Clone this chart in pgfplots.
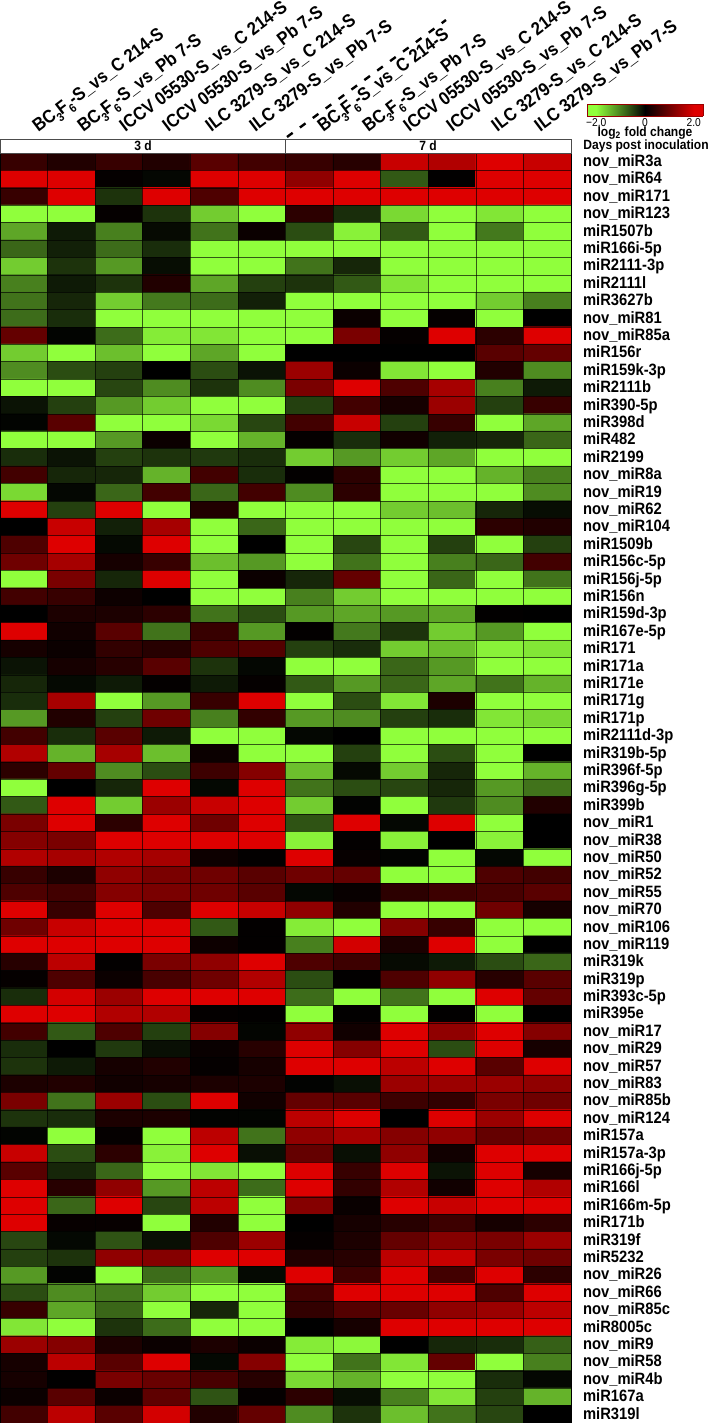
\documentclass[border=0pt]{standalone}
\usepackage{fontspec}
\setmainfont[FakeStretch=0.9]{Liberation Sans}
\usepackage{pgfplots}
\pgfplotsset{compat=1.18}
\pgfplotsset{colormap={gbr}{rgb255(0)=(144,255,60) rgb255(1)=(0,0,0) rgb255(2)=(222,0,0)}}

% sizes are in reference pixels, 1px = 0.5pt
\newcommand{\rowfont}{\fontsize{8.2}{9}\selectfont\bfseries}
\newcommand{\colfont}{\fontsize{9.2}{10}\selectfont\bfseries}
\newcommand{\smallbold}{\fontsize{6.7}{7.5}\selectfont\bfseries}
\newcommand{\lowsub}[1]{\makebox[0.12em][l]{\raisebox{-0.55ex}{\fontsize{6}{6}\selectfont #1}}}
\newcommand{\bcf}{BC\lowsub{3}\,F\lowsub{6}\,}

\begin{document}
\begin{tikzpicture}[x=0.5pt,y=-0.5pt]
\path[use as bounding box] (0,0) rectangle (709,1423);

\begin{axis}[
    at={(0pt,-711.5pt)}, anchor=south west,
    scale only axis, width=285.5pt, height=635pt,
    xmin=-0.5, xmax=11.5, ymin=-0.5, ymax=72.5, y dir=reverse,
    xtick=\empty,
    ytick={0,...,72},
    extra x ticks={-0.5,0.5,...,11.5},
    extra y ticks={-0.5,0.5,...,72.5},
    extra x tick labels={},
    extra y tick labels={},
    extra tick style={grid=major, major grid style={draw=black, draw opacity=0.65, line width=0.3pt}},
    axis on top,
    major tick length=0pt, minor tick length=0pt,
    yticklabel pos=right,
    yticklabel style={font=\rowfont, xshift=2.5pt, yshift=-0.6pt},
    typeset ticklabels with strut,
    yticklabels={nov\_miR3a,nov\_miR64,nov\_miR171,nov\_miR123,miR1507b,miR166i-5p,miR2111-3p,miR2111l,miR3627b,nov\_miR81,nov\_miR85a,miR156r,miR159k-3p,miR2111b,miR390-5p,miR398d,miR482,miR2199,nov\_miR8a,nov\_miR19,nov\_miR62,nov\_miR104,miR1509b,miR156c-5p,miR156j-5p,miR156n,miR159d-3p,miR167e-5p,miR171,miR171a,miR171e,miR171g,miR171p,miR2111d-3p,miR319b-5p,miR396f-5p,miR396g-5p,miR399b,nov\_miR1,nov\_miR38,nov\_miR50,nov\_miR52,nov\_miR55,nov\_miR70,nov\_miR106,nov\_miR119,miR319k,miR319p,miR393c-5p,miR395e,nov\_miR17,nov\_miR29,nov\_miR57,nov\_miR83,nov\_miR85b,nov\_miR124,miR157a,miR157a-3p,miR166j-5p,miR166l,miR166m-5p,miR171b,miR319f,miR5232,nov\_miR26,nov\_miR66,nov\_miR85c,miR8005c,nov\_miR9,nov\_miR58,nov\_miR4b,miR167a,miR319l},
    point meta min=-2, point meta max=2,
    axis line style={black, line width=0.3pt},
]
\addplot[matrix plot*, mesh/cols=12, point meta=explicit]
  table[header=false, row sep=\\, x expr={mod(\coordindex,12)}, y expr={floor((\coordindex+0.5)/12)}, meta index=0] {
0.5\\0.3\\0.5\\0.3\\0.8\\0.6\\0.5\\0.35\\1.8\\1.6\\2\\1.8\\
2\\2\\0.05\\-0.05\\2\\2\\1.3\\2\\-0.7\\0.02\\2\\2\\
0.5\\2\\-0.4\\2\\0.7\\2\\2\\2\\2\\2\\2\\2\\
-2\\-2\\0.05\\-0.4\\-1.6\\-2\\0.4\\-0.35\\-1.7\\-2\\-1.8\\-2\\
-1.3\\-0.2\\-1.0\\-0.08\\-0.9\\0.1\\-0.6\\-1.9\\-0.7\\-2\\-0.95\\-2\\
-0.8\\-0.25\\-0.85\\-0.35\\-2\\-2\\-2\\-2\\-2\\-2\\-2\\-2\\
-1.6\\-0.4\\-1.2\\-0.1\\-2\\-2\\-0.9\\-0.3\\-2\\-2\\-2\\-2\\
-1.0\\-0.2\\-0.4\\0.3\\-1.3\\-0.5\\-0.4\\-0.7\\-1.8\\-2\\-2\\-2\\
-0.9\\-0.3\\-1.6\\-0.95\\-0.85\\-0.25\\-2\\-2\\-2\\-2\\-1.6\\-1.0\\
-0.85\\-0.35\\-2\\-2\\-2\\-2\\-2\\0.1\\-2\\0.05\\-2\\0\\
0.9\\-0.03\\-0.85\\-1.85\\-1.8\\-2\\-2\\1.1\\0.05\\2\\0.4\\2\\
-1.6\\-2\\-1.5\\-2\\-1.3\\-2\\0\\0\\0\\0\\0.8\\0.9\\
-1.1\\-0.6\\-0.5\\0\\-0.6\\-0.15\\1.4\\0.1\\-1.8\\-2\\0.3\\-1.1\\
-2\\-2\\-0.55\\-1.1\\-0.4\\-1.1\\1.1\\2\\0.7\\1.5\\-1.0\\-0.2\\
-0.15\\-0.5\\-1.2\\-1.6\\-2\\-2\\-0.5\\0.6\\0.2\\1.4\\-0.5\\0.5\\
-0.03\\0.8\\-2\\-2\\-1.7\\-0.55\\0.6\\1.8\\-0.5\\0.5\\-2\\-1.3\\
-2\\-2\\-1.2\\0.1\\-2\\-1.4\\0.05\\-0.35\\0.15\\-0.25\\-0.3\\-0.8\\
-0.35\\-0.15\\-0.5\\-0.4\\-0.45\\-0.35\\-1.6\\-1.2\\-1.6\\-1.3\\-2\\-2\\
0.6\\-0.3\\-0.3\\-1.4\\0.6\\-0.35\\0.03\\0.4\\-2\\-2\\-1.4\\-1.0\\
-1.7\\-0.05\\-0.8\\0.6\\-0.8\\0.6\\-1.1\\0.4\\-2\\-2\\-2\\-1.1\\
2\\-0.5\\2\\-2\\0.3\\-2\\-2\\-2\\-1.6\\-1.5\\-0.3\\-0.1\\
0\\1.8\\-0.25\\1.5\\-2\\-0.8\\-2\\-2\\-2\\-2\\0.4\\0.3\\
0.7\\2\\-0.07\\2\\-2\\0\\-2\\-0.55\\-2\\-0.5\\-2\\-0.5\\
1.0\\1.5\\0.2\\0.5\\-1.5\\-1.2\\-2\\-0.9\\-2\\-1.0\\-0.8\\0.6\\
-2\\1.1\\-0.3\\2\\-2\\0.1\\-0.3\\0.9\\-2\\-0.8\\-2\\-0.9\\
0.6\\0.5\\0.12\\0\\-2\\-2\\-1.0\\-1.6\\-2\\-2\\-2\\-2\\
0\\0.25\\0.25\\0.4\\-0.9\\-0.6\\-1.2\\-1.3\\-1.2\\-1.3\\0.02\\0\\
2\\0.15\\0.8\\-0.9\\0.5\\-1.2\\0.03\\-0.95\\-0.4\\-1.6\\-1.2\\-2\\
0.2\\0.1\\0.45\\0.35\\0.7\\0.75\\-0.5\\-0.35\\-1.6\\-1.5\\-1.9\\-1.8\\
-0.15\\0.2\\0.35\\0.8\\-0.4\\-0.05\\-2\\-2\\-0.8\\-1.2\\-2\\-2\\
-0.3\\-0.07\\-0.2\\0.04\\-0.2\\0.05\\-0.7\\-1.2\\-0.8\\-1.3\\-0.9\\-1.4\\
-0.35\\1.5\\-2\\-1.2\\0.5\\2\\-2\\-0.6\\-1.8\\0.25\\-2\\-2\\
-1.2\\0.3\\-0.5\\1.0\\-1.0\\0.45\\-1.2\\-1.1\\-0.5\\-0.35\\-1.8\\-1.7\\
0.6\\-0.35\\0.8\\-0.2\\-2\\-2\\-0.05\\0\\-2\\-2\\-2\\-2\\
1.6\\-1.4\\1.5\\-1.5\\0.1\\-2\\-2\\-0.5\\-2\\-0.6\\-2\\0\\
0.4\\0.9\\-1.1\\-0.6\\0.55\\1.2\\-1.5\\-0.07\\-1.6\\-0.3\\-2\\-1.4\\
-2\\0\\-0.3\\2\\-0.06\\2\\-0.9\\-0.6\\-0.55\\-0.3\\-1.2\\-0.9\\
-0.7\\2\\-1.6\\1.4\\1.8\\2\\-1.6\\-0.02\\-2\\-0.45\\-1.1\\0.3\\
1.1\\2\\0.4\\2\\1.0\\2\\-0.65\\2\\-0.05\\2\\-2\\0\\
1.2\\1.1\\2\\2\\2\\2\\-1.9\\0.03\\-1.9\\0\\-1.9\\0\\
1.6\\1.5\\1.6\\1.5\\0.12\\0.03\\2\\0.06\\-0.02\\-2\\-0.05\\-2\\
0.5\\0.25\\1.3\\1.1\\1.0\\0.8\\1.0\\0.9\\-2\\-2\\0.7\\0.6\\
0.7\\0.6\\1.2\\1.1\\1.0\\0.8\\-0.05\\0.07\\0.4\\0.55\\0.65\\0.8\\
2\\0.5\\2\\0.7\\2\\1.8\\1.3\\0.3\\-2\\-2\\1.0\\0.2\\
1.0\\1.8\\2\\2\\-0.7\\0.03\\-1.85\\-2\\1.2\\0.5\\-2\\-2\\
2\\2\\2\\2\\0.12\\0.03\\-1.0\\1.9\\0.25\\2\\-2\\0\\
0.35\\1.7\\0.03\\1.1\\1.3\\2\\0.7\\0.55\\-0.08\\-0.2\\-0.6\\-0.8\\
0.05\\0.7\\0.1\\0.65\\1.0\\1.6\\-0.6\\0.02\\0.7\\1.3\\0.35\\0.8\\
-0.35\\1.9\\1.4\\2\\2\\2\\-0.85\\-2\\-0.9\\-2\\2\\0.9\\
2\\2\\1.6\\1.6\\0.04\\0.02\\-2\\0.02\\-2\\0.02\\-2\\0\\
0.6\\-0.7\\0.7\\-0.5\\1.2\\-0.04\\1.3\\0.15\\2\\1.3\\2\\1.2\\
-0.35\\0\\-0.45\\-0.12\\0.08\\0.35\\2\\1.2\\2\\-0.6\\2\\0.2\\
-0.4\\-0.2\\0.2\\0.3\\0.05\\0.2\\2\\2\\1.7\\2\\0.8\\2\\
0.25\\0.3\\0.15\\0.2\\0.25\\0.25\\-0.02\\-0.12\\1.4\\1.4\\1.4\\1.3\\
1.1\\-0.9\\1.4\\-0.6\\2\\0.15\\0.9\\0.8\\0.55\\0.45\\1.1\\1.0\\
-0.4\\-0.35\\0.25\\0.25\\-0.02\\-0.03\\1.7\\2\\0\\2\\1.4\\2\\
-0.03\\-2\\0.05\\-2\\1.7\\-0.9\\1.3\\1.5\\1.2\\1.3\\0.9\\1.0\\
1.8\\-0.6\\0.4\\-1.9\\2\\-0.12\\0.9\\-0.12\\1.3\\0.15\\2\\2\\
0.8\\-0.3\\-0.8\\-2\\-1.8\\-2\\2\\0.5\\2\\-0.15\\2\\0.2\\
2\\0.35\\1.3\\-1.2\\1.7\\-0.85\\2\\0.45\\1.6\\0.15\\2\\1.6\\
2\\-0.8\\2\\-0.55\\1.7\\-2\\1.2\\0.08\\2\\1.8\\2\\2\\
2\\0.06\\0.06\\-2\\0.3\\-2\\0\\0.2\\0.35\\0.55\\0.2\\0.4\\
-0.55\\-0.06\\-0.65\\-0.12\\0.7\\1.4\\0.05\\0.25\\0.9\\1.2\\1.1\\1.4\\
-0.5\\-0.4\\1.3\\1.2\\2\\2\\0.3\\0.35\\1.7\\1.8\\1.1\\1.0\\
-1.2\\-0.02\\-2\\-0.85\\-1.2\\-0.07\\2\\0.55\\2\\0.6\\2\\0.4\\
-0.6\\-1.1\\-0.95\\-1.6\\-2\\-2\\0.6\\2\\2\\2\\0.7\\2\\
0.5\\-1.3\\-0.8\\-2\\-0.3\\-2\\0.45\\0.75\\0.95\\1.3\\1.4\\1.7\\
-1.8\\-2\\-0.4\\-0.85\\-2\\-2\\0\\0.2\\2\\2\\2\\2\\
1.4\\1.2\\0.25\\0.1\\0.25\\0.1\\-1.85\\-1.95\\0\\-0.3\\-0.35\\-0.75\\
0.2\\1.7\\0.8\\2\\-0.06\\1.2\\-2\\-0.9\\-1.8\\0.9\\-2\\-1.0\\
0.2\\0.02\\1.1\\0.95\\0.65\\0.35\\-1.7\\-1.4\\-2\\-2\\-0.35\\-0.05\\
0.1\\0.8\\0.1\\0.85\\-0.65\\0.05\\0.4\\-0.1\\-1.0\\-1.8\\-0.5\\-1.4\\
0.6\\1.7\\0.8\\1.9\\0.3\\0.9\\-1.1\\-0.4\\-1.5\\-0.9\\-0.55\\0\\
};
\end{axis}

% colour key
\begin{axis}[
    at={(293.5pt,-58pt)}, anchor=south west,
    scale only axis, width=58pt, height=6pt,
    xmin=-2.38, xmax=2.38, ymin=0, ymax=1,
    view={0}{90},
    xtick={-2,0,2}, xticklabels={\textminus2.0,0,2.0},
    ytick=\empty, major tick length=0pt,
    xticklabel style={font=\fontsize{5.7}{6}\selectfont, yshift=2.4pt},
    point meta min=-2, point meta max=2,
    axis line style={draw=red!60!black, line width=0.2pt},
]
\addplot3[surf, shader=interp, mesh/rows=2, point meta=explicit] coordinates {
    (-2.38,0,0)[-2] (-2,0,0)[-2] (0,0,0)[0] (2,0,0)[2] (2.38,0,0)[2]
    (-2.38,1,0)[-2] (-2,1,0)[-2] (0,1,0)[0] (2,1,0)[2] (2.38,1,0)[2]
};
\end{axis}
\node[font=\smallbold] at (645,133) {log\textsubscript{2} fold change};

% days header
\draw[black!70, line width=0.4pt, fill=white] (0,139) rectangle (571,153);
\draw[black!70, line width=0.4pt] (285,139) -- (285,153);
\node[font=\smallbold] at (143,146) {3 d};
\node[font=\smallbold] at (428,146) {7 d};
\node[font=\smallbold, anchor=west, inner sep=0pt] at (583,146) {Days post inoculation};

% stray dashed rule above the 7 d columns
\draw[black, line width=1.2pt, dash pattern=on 3.5pt off 4.5pt] (287,137) -- (446,20);

% column labels
\foreach \px/\txt in {
  38/\bcf-S\_vs\_C 214-S,
  83/\bcf-S\_vs\_Pb 7-S,
  125/ICCV 05530-S\_vs\_C 214-S,
  168/ICCV 05530-S\_vs\_Pb 7-S,
  211/ILC 3279-S\_vs\_C 214-S,
  255/ILC 3279-S\_vs\_Pb 7-S,
  323/\bcf-S\_vs\_C 214-S,
  368/\bcf-S\_vs\_Pb 7-S,
  409/ICCV 05530-S\_vs\_C 214-S,
  452/ICCV 05530-S\_vs\_Pb 7-S,
  497/ILC 3279-S\_vs\_C 214-S,
  540/ILC 3279-S\_vs\_Pb 7-S}
  \node[font=\colfont, rotate=37, anchor=base west, inner sep=0pt] at (\px,133) {\txt};
\end{tikzpicture}
\end{document}
